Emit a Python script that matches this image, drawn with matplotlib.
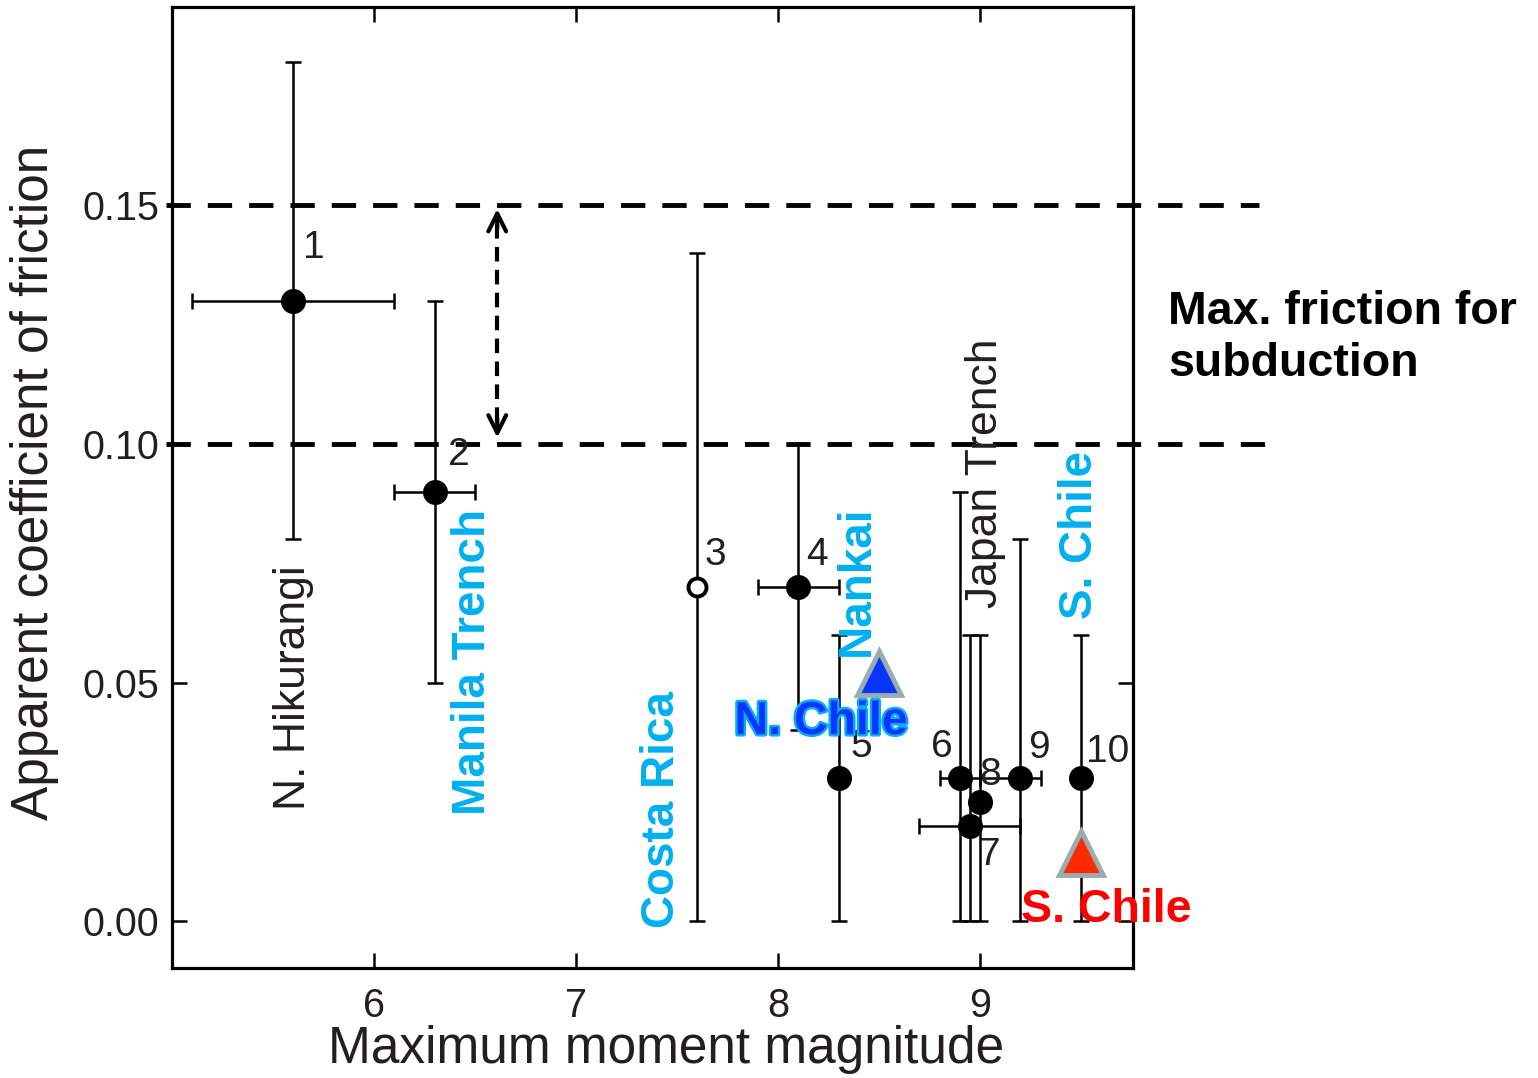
import numpy as np
import matplotlib.pyplot as plt
import matplotlib.patheffects as pe

plt.rcParams['font.family'] = ['Liberation Sans', 'DejaVu Sans']

# subduction zones: magnitude, friction and error ranges
ids = ["1", "2", "3", "4", "5", "6", "7", "8", "9", "10"]
mw = [5.6, 6.3, 7.6, 8.1, 8.3, 8.9, 8.95, 9.0, 9.2, 9.5]
mu = [0.13, 0.09, 0.07, 0.07, 0.03, 0.03, 0.02, 0.025, 0.03, 0.03]
mu_lo = [0.08, 0.05, 0.0, 0.04, 0.0, 0.0, 0.0, 0.0, 0.0, 0.0]
mu_hi = [0.18, 0.13, 0.14, 0.10, 0.06, 0.09, 0.06, 0.06, 0.08, 0.06]
mw_lo = [5.1, 6.1, 7.6, 7.9, 8.3, 8.8, 8.7, 9.0, 9.0, 9.5]
mw_hi = [6.1, 6.5, 7.6, 8.3, 8.3, 9.0, 9.2, 9.0, 9.3, 9.5]
open_marker = [False, False, True, False, False, False, False, False, False, False]

# Chile estimates (triangles)
chile_mw = [8.5, 9.5]
chile_mu = [0.052, 0.0142]

# friction band limits
band = [0.15, 0.10]

CYAN = "#00b0f0"
INK = "#231f20"

fig = plt.figure(figsize=(15.38, 10.78), dpi=100)
ax = fig.add_axes([172 / 1538, 1 - 968 / 1078, 961 / 1538, 961 / 1078])

for i in range(len(ids)):
    yerr = [[mu[i] - mu_lo[i]], [mu_hi[i] - mu[i]]]
    xerr = [[mw[i] - mw_lo[i]], [mw_hi[i] - mw[i]]]
    has_x = mw_hi[i] - mw_lo[i] > 0
    ax.errorbar(mw[i], mu[i], yerr=yerr, xerr=xerr if has_x else None,
                fmt="none", ecolor="k", elinewidth=1.8, capsize=6, capthick=1.8,
                zorder=2)
    if open_marker[i]:
        ax.plot(mw[i], mu[i], "o", ms=13, mfc="white", mec="k", mew=2.8, zorder=4)
    else:
        ax.plot(mw[i], mu[i], "o", ms=17, color="k", zorder=4)

# number labels next to each point
num_pos = [(5.70, 0.141), (6.42, 0.0976), (7.69, 0.0767), (8.19, 0.0767),
           (8.41, 0.0365), (8.81, 0.0365), (9.05, 0.0138), (9.05, 0.0306),
           (9.29, 0.0362), (9.63, 0.0354)]
for lab, (tx, ty) in zip(ids, num_pos):
    ax.text(tx, ty, lab, fontsize=28, color=INK, ha="center", va="center", zorder=5)

# Chile triangles
ax.plot(chile_mw[0], chile_mu[0], "^", ms=32, mfc="#0a35ff", mec="#9aacb0", mew=3.5, zorder=6)
ax.plot(chile_mw[1], chile_mu[1], "^", ms=32, mfc="#ff2a00", mec="#9aacb0", mew=3.5, zorder=6)

# dashed friction limits, running past the right spine
for yb, xe in zip(band, [10.38, 10.41]):
    ax.plot([4.97, xe], [yb, yb], color="k", lw=3.5, ls=(0, (5, 3.5)),
            clip_on=False, zorder=3)

# double-headed dashed arrow between the two limits
xa = 6.61
ax.plot([xa, xa], [0.146, 0.1045], color="k", lw=3, ls=(0, (3.5, 2)), zorder=3)
for tip, tail in [(0.1492, 0.1452), (0.1013, 0.1053)]:
    ax.annotate("", xy=(xa, tip), xytext=(xa, tail),
                arrowprops=dict(arrowstyle="->", lw=3, color="k",
                                shrinkA=0, shrinkB=0, mutation_scale=32))

# region names
ax.text(5.6, 0.049, "N. Hikurangi", rotation=90, fontsize=32, color=INK,
        ha="center", va="center")
ax.text(9.025, 0.0939, "Japan Trench", rotation=90, fontsize=32, color=INK,
        ha="center", va="center")
for tx, ty, lab in [(6.49, 0.0543, "Manila Trench"), (7.426, 0.0233, "Costa Rica"),
                    (8.39, 0.0714, "Nankai"), (9.495, 0.081, "S. Chile")]:
    ax.text(tx, ty, lab, rotation=90, fontsize=33, color=CYAN, fontweight="bold",
            ha="center", va="center", zorder=7)
ax.text(8.213, 0.0417, "N. Chile", fontsize=33.5, color="#0a35ff", fontweight="bold",
        ha="center", va="center", zorder=7,
        path_effects=[pe.withStroke(linewidth=3.5, foreground=CYAN)])
ax.text(9.624, 0.0023, "S. Chile", fontsize=33.5, color="#ff0000", fontweight="bold",
        ha="center", va="center", zorder=7)

fig.text(1168 / 1538, 1 - 338 / 1078, "Max. friction for\nsubduction", fontsize=33.5,
         fontweight="bold", color="k", ha="left", va="center", linespacing=1.25)

ax.set_xlim(5.0, 9.757)
ax.set_ylim(-0.0098, 0.1915)
ax.set_xticks([6, 7, 8, 9])
ax.set_yticks([0.0, 0.05, 0.10, 0.15])
ax.set_yticklabels(["0.00", "0.05", "0.10", "0.15"])
ax.tick_params(direction="in", length=11, width=1.8, top=True, right=True,
               labelsize=28.5, labelcolor=INK)
ax.tick_params(axis="x", pad=14)
ax.tick_params(axis="y", pad=9)
for s in ax.spines.values():
    s.set_linewidth(2.3)

ax.set_xlabel("Maximum moment magnitude", fontsize=37, color=INK)
ax.xaxis.set_label_coords(0.514, -0.0853)
ax.xaxis.label.set_va("center")
ax.set_ylabel("Apparent coefficient of friction", fontsize=37, color=INK)
ax.yaxis.set_label_coords(-0.1426, 0.5057)
ax.yaxis.label.set_va("center")

fig.savefig("out.png", dpi=100)
